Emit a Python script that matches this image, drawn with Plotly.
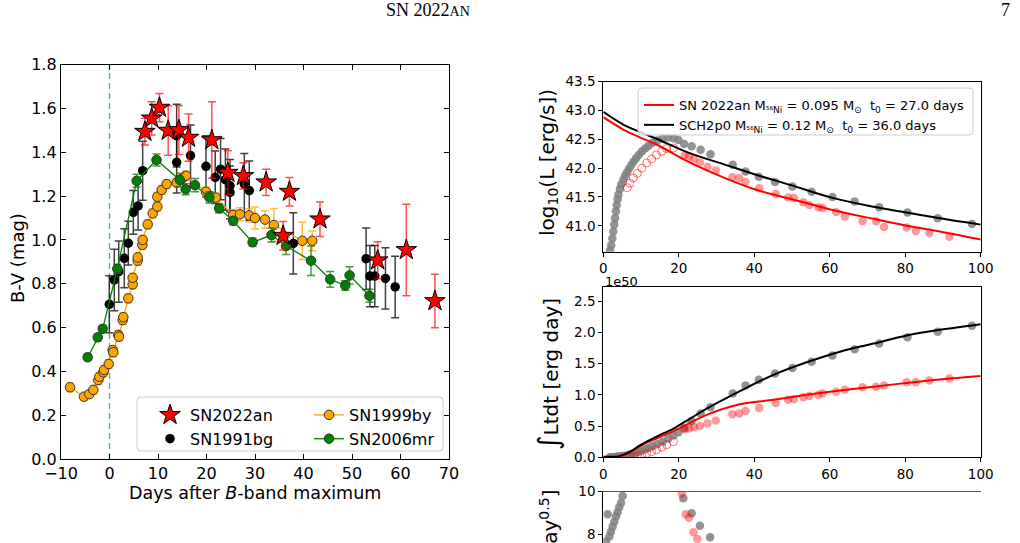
import plotly.graph_objects as go

W, H = 1020, 543

# ---------------- Left panel: B-V colour curves ----------------
an_x = [7.3, 8.7, 10.3, 12.1, 14.3, 16.3, 21.1, 24.4, 27.6, 32.3, 35.8, 37.1, 43.4, 55.3, 61.2, 67.1]
an_y = [1.494, 1.555, 1.604, 1.499, 1.502, 1.467, 1.456, 1.307, 1.292, 1.263, 1.019, 1.220, 1.094, 0.907, 0.954, 0.721]
an_e = [0.061, 0.076, 0.065, 0.113, 0.112, 0.108, 0.175, 0.10, 0.06, 0.06, 0.065, 0.065, 0.079, 0.084, 0.209, 0.122]

bg_x = [-0.04, 0.99, 1.9, 3.05, 3.88, 4.91, 5.9, 6.84, 13.85, 13.85, 16.7, 19.9, 21.8, 22.9, 23.9,
        24.85, 24.85, 27.8, 28.82, 37.9, 52.9, 53.7, 54.7, 56.9, 58.9]
bg_y = [0.706, 0.817, 0.855, 0.916, 0.985, 1.126, 1.155, 1.316, 1.476, 1.354, 1.385, 1.336, 1.286, 1.323, 1.275,
        1.247, 1.217, 1.255, 1.225, 0.984, 0.914, 0.835, 0.835, 0.824, 0.785]
bg_e = [0.13, 0.14, 0.14, 0.135, 0.10, 0.10, 0.11, 0.135, 0.143, 0.14, 0.14, 0.14, 0.12, 0.14, 0.14,
        0.12, 0.12, 0.14, 0.135, 0.14, 0.14, 0.14, 0.14, 0.14, 0.14]

by_x = [-8.14, -5.26, -4.16, -3.34, -2.31, -2.1, -1.28, -1.13, -0.16, 0.66, 0.78, 1.81, 1.96, 2.72, 2.85,
        3.88, 4.78, 4.78, 5.81, 5.81, 6.77, 6.84, 7.87, 8.9, 9.86, 9.86, 10.76, 11.79, 13.85, 14.9, 15.77,
        19.9, 20.7, 21.9, 25.5, 26.9, 28.8, 30.0, 32.06, 33.9, 39.75, 41.8]
by_y = [0.327, 0.284, 0.296, 0.315, 0.36, 0.375, 0.395, 0.406, 0.433, 0.497, 0.487, 0.566, 0.558, 0.634, 0.647,
        0.733, 0.797, 0.827, 0.905, 0.92, 0.977, 1.0, 1.071, 1.121, 1.152, 1.197, 1.228, 1.255, 1.262, 1.277, 1.293,
        1.22, 1.2, 1.193, 1.114, 1.117, 1.112, 1.10, 1.093, 1.068, 0.996, 0.996]
by_e = [0.02, 0.015, 0.015, 0.02, 0.02, 0.02, 0.02, 0.02, 0.02, 0.02, 0.02, 0.02, 0.02, 0.02, 0.02,
        0.02, 0.02, 0.02, 0.02, 0.02, 0.02, 0.02, 0.02, 0.02, 0.02, 0.02, 0.02, 0.02, 0.02, 0.02, 0.02,
        0.02, 0.02, 0.02, 0.025, 0.03, 0.03, 0.05, 0.04, 0.075, 0.085, 0.045]

mr_x = [-4.5, -2.43, -1.4, 1.61, 5.6, 9.7, 14.5, 15.7, 17.63, 20.6, 22.6, 25.5, 29.5, 33.4, 36.4,
        41.55, 45.5, 48.6, 49.5, 53.6]
mr_y = [0.464, 0.555, 0.594, 0.868, 1.270, 1.365, 1.274, 1.231, 1.25, 1.194, 1.144, 1.087, 0.989, 1.022, 0.972,
        0.905, 0.820, 0.792, 0.838, 0.745]
mr_e = [0.015, 0.015, 0.015, 0.02, 0.03, 0.027, 0.03, 0.025, 0.03, 0.025, 0.02, 0.018, 0.018, 0.032, 0.039,
        0.067, 0.036, 0.022, 0.039, 0.03]

# ---------------- Right panels: bolometric light curves ----------------
sch_t = [1.78, 2.1, 2.4, 2.65, 2.9, 3.1, 3.35, 3.55, 3.8, 4.0, 4.4, 4.8, 5.3, 5.8, 6.3, 6.8, 7.4, 8.0, 8.7, 9.4,
         10.2, 11.1, 12.0, 13.0, 14.3, 15.7, 17.2, 18.6, 19.9, 21.4, 23.4, 25.8, 28.4, 34.3, 37.7, 41.2, 45.5,
         50.1, 55.2, 60.7, 66.6, 73.1, 80.6, 88.6, 97.7]
sch_logL = [40.57, 40.66, 40.78, 40.90, 41.02, 41.13, 41.25, 41.36, 41.46, 41.54, 41.64, 41.72, 41.80, 41.87,
            41.93, 41.99, 42.05, 42.11, 42.17, 42.23, 42.29, 42.34, 42.39, 42.44, 42.48, 42.51, 42.53, 42.52,
            42.49, 42.42, 42.38, 42.32, 42.24, 42.06, 41.94, 41.85, 41.76, 41.68, 41.59, 41.50, 41.42, 41.32,
            41.23, 41.13, 41.03]
sch_int = [0.0, 0.0, 0.0, 0.0, 0.0, 0.005, 0.005, 0.005, 0.008, 0.01, 0.01, 0.015, 0.02, 0.025, 0.03, 0.04,
           0.05, 0.06, 0.075, 0.09, 0.11, 0.13, 0.15, 0.175, 0.21, 0.25, 0.30, 0.35, 0.40, 0.47, 0.58, 0.70,
           0.80, 1.02, 1.15, 1.24, 1.34, 1.43, 1.53, 1.63, 1.73, 1.82, 1.92, 2.01, 2.105]

an_t = [21.6, 22.7, 24.0, 25.6, 27.6, 29.8, 34.2, 36.0, 37.7, 41.3, 45.7, 49.0, 50.5, 53.0, 54.6, 57.0, 58.1,
        61.7, 64.0, 68.7, 72.3, 74.4, 80.4, 82.8, 86.4, 91.7]
an_logL = [42.23, 42.20, 42.16, 42.10, 42.02, 41.96, 41.84, 41.83, 41.76, 41.65, 41.55, 41.49, 41.48, 41.41,
           41.36, 41.32, 41.31, 41.24, 41.16, 41.08, 41.08, 40.98, 40.97, 40.91, 40.88, 40.81]
an_int = [0.45, 0.46, 0.48, 0.50, 0.54, 0.59, 0.69, 0.70, 0.74, 0.79, 0.87, 0.92, 0.93, 0.96, 0.98, 1.00, 1.02,
          1.05, 1.08, 1.12, 1.13, 1.15, 1.20, 1.20, 1.23, 1.26]

an_early_t = [6.36, 7.07, 7.95, 9.0, 10.2, 11.5, 12.8, 14.1, 15.5, 16.8, 18.6]
an_early_logL = [41.66, 41.74, 41.83, 41.91, 42.00, 42.09, 42.16, 42.23, 42.29, 42.34, 42.35]
an_early_int = [0.0, 0.005, 0.01, 0.02, 0.03, 0.06, 0.09, 0.12, 0.16, 0.20, 0.25]

# model curves
mod_t = [0, 5.3, 9.7, 14.1, 22.9, 31.8, 40.7, 49.5, 61.0, 71.6, 80.4, 89.2, 100]
sch_mod_logL = [42.977, 42.756, 42.628, 42.51, 42.26, 42.07, 41.88, 41.71, 41.48, 41.33, 41.23, 41.13, 41.02]
an_mod_logL = [42.884, 42.67, 42.535, 42.41, 42.10, 41.84, 41.62, 41.47, 41.27, 41.12, 41.00, 40.90, 40.76]

imod_t = [0, 2, 4, 7.1, 9.7, 14.1, 18.6, 23.0, 27.4, 36.2, 45.1, 53.9, 62.7, 71.6, 80.4, 89.2, 100]
sch_mod_int = [0.01, 0.01, 0.015, 0.09, 0.19, 0.33, 0.46, 0.62, 0.78, 1.06, 1.32, 1.52, 1.69, 1.82, 1.95, 2.04, 2.13]
an_mod_int = [0.0, 0.0, 0.01, 0.075, 0.18, 0.30, 0.42, 0.55, 0.68, 0.85, 0.92, 1.00, 1.07, 1.13, 1.19, 1.245, 1.30]

# bottom (cut-off) panel
b_gray_t = [0.7, 1.16, 1.6, 2.04, 2.48, 2.92, 3.36, 3.8, 4.24, 4.69, 5.13, 21.2, 23.4, 25.6, 28.3]
b_gray_v = [7.65, 8.94, 7.89, 8.12, 8.36, 8.59, 8.83, 9.03, 9.27, 9.48, 9.8, 9.69, 8.99, 8.40, 7.86]
b_red_t = [20.8, 21.8, 22.7, 23.9, 24.9]
b_red_v = [9.92, 8.94, 8.78, 8.09, 7.78]

# ---------------- helpers ----------------
def fx(p):
    return p / W


def fy(p):
    return 1 - p / H


def rounded_box(x0, y0, x1, y1, r=4):
    """SVG path (paper coords) of a box with rounded corners, given pixel corners."""
    pts = [
        f"M {fx(x0 + r)},{fy(y0)}",
        f"L {fx(x1 - r)},{fy(y0)}",
        f"Q {fx(x1)},{fy(y0)} {fx(x1)},{fy(y0 + r)}",
        f"L {fx(x1)},{fy(y1 - r)}",
        f"Q {fx(x1)},{fy(y1)} {fx(x1 - r)},{fy(y1)}",
        f"L {fx(x0 + r)},{fy(y1)}",
        f"Q {fx(x0)},{fy(y1)} {fx(x0)},{fy(y1 - r)}",
        f"L {fx(x0)},{fy(y0 + r)}",
        f"Q {fx(x0)},{fy(y0)} {fx(x0 + r)},{fy(y0)} Z",
    ]
    return " ".join(pts)


FONT = "DejaVu Sans"
fig = go.Figure()

# left panel traces
fig.add_trace(go.Scatter(
    x=bg_x, y=bg_y, mode="markers", name="SN1991bg", xaxis="x", yaxis="y", legend="legend", legendrank=2,
    marker=dict(color="black", size=9.5),
    error_y=dict(type="data", array=bg_e, color="rgba(0,0,0,0.75)", thickness=1.5, width=4)))
fig.add_trace(go.Scatter(
    x=by_x, y=by_y, mode="lines+markers", name="SN1999by", xaxis="x", yaxis="y", legend="legend3", legendrank=1,
    line=dict(color="orange", width=1.3),
    marker=dict(color="orange", size=9.5, line=dict(color="#333", width=1)),
    error_y=dict(type="data", array=by_e, color="rgba(255,165,0,0.75)", thickness=1.5, width=4)))
fig.add_trace(go.Scatter(
    x=mr_x, y=mr_y, mode="lines+markers", name="SN2006mr", xaxis="x", yaxis="y", legend="legend3", legendrank=2,
    line=dict(color="green", width=1.3),
    marker=dict(color="green", size=9.5, line=dict(color="#333", width=1)),
    error_y=dict(type="data", array=mr_e, color="rgba(0,128,0,0.75)", thickness=1.5, width=4)))
fig.add_trace(go.Scatter(
    x=an_x, y=an_y, mode="markers", name="SN2022an", xaxis="x", yaxis="y", legend="legend", legendrank=1,
    marker=dict(symbol="star", color="red", size=15.5, line=dict(color="black", width=1)),
    error_y=dict(type="data", array=an_e, color="rgba(255,0,0,0.7)", thickness=1.5, width=4)))

# right top panel
fig.add_trace(go.Scatter(x=sch_t, y=sch_logL, mode="markers", xaxis="x2", yaxis="y2", showlegend=False,
                         marker=dict(color="rgba(128,128,128,0.85)", size=8.5)))
fig.add_trace(go.Scatter(x=an_t, y=an_logL, mode="markers", xaxis="x2", yaxis="y2", showlegend=False,
                         marker=dict(color="rgba(255,0,0,0.4)", size=8.5)))
fig.add_trace(go.Scatter(x=an_early_t, y=an_early_logL, mode="markers", xaxis="x2", yaxis="y2", showlegend=False,
                         marker=dict(symbol="circle-open", color="rgba(255,0,0,0.55)", size=8, line=dict(width=1))))
fig.add_trace(go.Scatter(x=mod_t, y=an_mod_logL, mode="lines", xaxis="x2", yaxis="y2", legend="legend2",
                         name="SN 2022an M<sub>⁵⁶Ni</sub> = 0.095 M<sub>⊙</sub>  t<sub>0</sub> = 27.0 days",
                         line=dict(color="red", width=2, shape="spline")))
fig.add_trace(go.Scatter(x=mod_t, y=sch_mod_logL, mode="lines", xaxis="x2", yaxis="y2", legend="legend2",
                         name="SCH2p0 M<sub>⁵⁶Ni</sub> = 0.12 M<sub>⊙</sub>  t<sub>0</sub> = 36.0 days",
                         line=dict(color="black", width=2, shape="spline")))

# right middle panel
fig.add_trace(go.Scatter(x=sch_t, y=sch_int, mode="markers", xaxis="x3", yaxis="y3", showlegend=False,
                         marker=dict(color="rgba(128,128,128,0.85)", size=8.5)))
fig.add_trace(go.Scatter(x=an_t, y=an_int, mode="markers", xaxis="x3", yaxis="y3", showlegend=False,
                         marker=dict(color="rgba(255,0,0,0.4)", size=8.5)))
fig.add_trace(go.Scatter(x=an_early_t, y=an_early_int, mode="markers", xaxis="x3", yaxis="y3", showlegend=False,
                         marker=dict(symbol="circle-open", color="rgba(255,0,0,0.55)", size=8, line=dict(width=1))))
fig.add_trace(go.Scatter(x=imod_t, y=an_mod_int, mode="lines", xaxis="x3", yaxis="y3", showlegend=False,
                         line=dict(color="red", width=2, shape="spline")))
fig.add_trace(go.Scatter(x=imod_t, y=sch_mod_int, mode="lines", xaxis="x3", yaxis="y3", showlegend=False,
                         line=dict(color="black", width=2, shape="spline")))

# bottom panel
fig.add_trace(go.Scatter(x=b_gray_t, y=b_gray_v, mode="markers", xaxis="x4", yaxis="y4", showlegend=False,
                         marker=dict(color="rgba(128,128,128,0.85)", size=8.5)))
fig.add_trace(go.Scatter(x=b_red_t, y=b_red_v, mode="markers", xaxis="x4", yaxis="y4", showlegend=False,
                         marker=dict(color="rgba(255,0,0,0.4)", size=8.5)))

axL = dict(showgrid=False, zeroline=False, showline=True, linecolor="black", linewidth=1.3, mirror="ticks",
           ticks="inside", ticklen=5, tickwidth=1.2, tickcolor="black", automargin=False,
           tickfont=dict(family=FONT, size=16, color="black"))
axR = dict(showgrid=False, zeroline=False, showline=True, linecolor="black", linewidth=1.1, mirror=True,
           ticks="outside", ticklen=4, tickwidth=1, tickcolor="black", automargin=False,
           tickfont=dict(family=FONT, size=13.5, color="black"))

xr_dom = [fx(603.3), fx(980.7)]

fig.update_layout(
    width=W, height=H, margin=dict(l=0, r=0, t=0, b=0, pad=0, autoexpand=False),
    paper_bgcolor="white", plot_bgcolor="white",
    font=dict(family=FONT, color="black"),
    xaxis=dict(axL, domain=[fx(61), fx(449)], anchor="y", range=[-10, 70], tickvals=list(range(-10, 71, 10))),
    yaxis=dict(axL, domain=[fy(458.9), fy(64.7)], anchor="x", range=[0, 1.8],
               tickvals=[0, 0.2, 0.4, 0.6, 0.8, 1.0, 1.2, 1.4, 1.6, 1.8], tickformat=".1f"),
    xaxis2=dict(axR, domain=xr_dom, anchor="y2", range=[0, 100], tickvals=[0, 20, 40, 60, 80, 100]),
    yaxis2=dict(axR, domain=[fy(251.7), fy(81.7)], anchor="x2", range=[40.55, 43.5],
                tickvals=[41.0, 41.5, 42.0, 42.5, 43.0, 43.5], tickformat=".1f"),
    xaxis3=dict(axR, domain=xr_dom, anchor="y3", range=[0, 100], tickvals=[0, 20, 40, 60, 80, 100]),
    yaxis3=dict(axR, domain=[fy(457.3), fy(286.7)], anchor="x3", range=[0, 2.73],
                tickvals=[0, 0.5, 1.0, 1.5, 2.0, 2.5], tickformat=".1f"),
    xaxis4=dict(axR, domain=xr_dom, anchor="y4", range=[0, 100], side="top", mirror=False, ticks="",
                showticklabels=False, linecolor="#555"),
    yaxis4=dict(axR, domain=[0, fy(491.7)], anchor="x4", range=[7.59, 10], tickvals=[8, 10], mirror=False),
    legend=dict(x=fx(150), y=fy(398), xanchor="left", yanchor="top", bgcolor="rgba(0,0,0,0)",
                font=dict(family=FONT, size=16), tracegroupgap=0),
    legend3=dict(x=fx(309), y=fy(398), xanchor="left", yanchor="top", bgcolor="rgba(0,0,0,0)",
                 font=dict(family=FONT, size=16), tracegroupgap=0),
    legend2=dict(x=fx(639), y=fy(90), xanchor="left", yanchor="top", bgcolor="rgba(0,0,0,0)",
                 font=dict(family=FONT, size=13), tracegroupgap=0),
)

shapes = [
    dict(type="line", xref="x", yref="y domain", x0=0, x1=0, y0=0, y1=1, layer="below",
         line=dict(color="rgb(70,175,180)", width=1.3, dash="6px,4px")),
    dict(type="path", xref="paper", yref="paper", path=rounded_box(137, 397, 443, 451), layer="above",
         line=dict(color="#cccccc", width=1), fillcolor="rgba(255,255,255,0.8)"),
    dict(type="path", xref="paper", yref="paper", path=rounded_box(638, 88, 973, 135), layer="above",
         line=dict(color="#cccccc", width=1), fillcolor="rgba(255,255,255,0.8)"),
]
fig.update_layout(shapes=shapes)


def label(text, x, y, size, angle=0, xanchor="center", yanchor="middle", family=FONT):
    return dict(text=text, x=fx(x), y=fy(y), xref="paper", yref="paper", showarrow=False, textangle=angle,
                xanchor=xanchor, yanchor=yanchor, font=dict(family=family, size=size, color="black"))


ann = [
    label("SN 2022<span style='font-size:14px'>AN</span>", 428, 10, 18, family="Liberation Serif"),
    label("7", 1005, 10, 18, family="Liberation Serif"),
    label("B-V (mag)", 17, 258, 18, angle=-90),
    label("Days after <i>B</i>-band maximum", 255, 493, 17.5),
    label("log<sub>10</sub>(L [erg/s])", 548, 163, 20, angle=-90),
    label("<span style='font-size:28px'>∫</span>Ltdt [erg day]", 548, 374, 20, angle=-90),
    label("1e50", 603, 281, 13, xanchor="left"),
    label("√∫Ltdt [erg day<sup>0.5</sup>]", 548, 488, 20, angle=-90, yanchor="top"),
]
fig.update_layout(annotations=ann)

fig.write_html("out.html")
